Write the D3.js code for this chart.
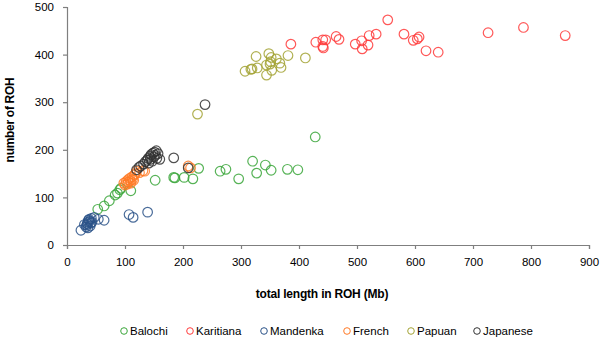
<!DOCTYPE html>
<html>
<head>
<meta charset="utf-8">
<script src="https://cdn.jsdelivr.net/npm/d3@7"></script>
<style>
  body { margin: 0; background: #fff; }
  text { font-family: "Liberation Sans", Arial, sans-serif; }
</style>
</head>
<body>
<svg id="chart" width="600" height="341"></svg>
<script>
// Total length in ROH (Mb) vs number of ROH, per individual
const balochi = [
  [53, 75], [64, 82], [73, 93], [83, 105], [87, 109], [91, 116], [93, 119],
  [110, 114], [152, 136], [184, 142], [186, 141], [202, 142], [217, 139],
  [227, 161], [264, 155], [274, 159], [296, 139], [320, 176], [327, 151],
  [342, 168], [352, 157], [380, 159], [398, 158], [428, 227]
];
const karitiana = [
  [386, 422], [429, 426], [441, 431], [446, 431], [441, 417], [442, 414],
  [464, 438], [469, 432], [497, 422], [508, 429], [509, 412], [519, 420],
  [521, 440], [533, 443], [553, 473], [581, 443], [597, 430], [604, 433],
  [607, 437], [619, 408], [640, 405], [726, 446], [787, 457], [859, 440]
];
const mandenka = [
  [24, 31], [33, 38], [34, 42], [35, 45], [36, 48], [37, 52], [38, 54],
  [39, 50], [40, 40], [41, 46], [42, 56], [43, 48], [36, 36], [30, 43],
  [47, 58], [54, 54], [64, 52], [107, 64], [114, 58], [139, 69]
];
const french = [
  [98, 130], [100, 126], [102, 133], [104, 128], [105, 137], [106, 132],
  [108, 140], [109, 135], [110, 130], [112, 143], [113, 138], [115, 136],
  [116, 147], [118, 150], [120, 155], [125, 152], [131, 156], [134, 155],
  [209, 166], [213, 162]
];
const papuan = [
  [225, 275], [307, 365], [317, 369], [319, 370], [326, 396], [328, 372],
  [344, 378], [344, 357], [348, 402], [350, 380], [351, 385], [352, 394],
  [353, 367], [361, 391], [367, 382], [369, 373], [381, 398], [411, 393]
];
const japanese = [
  [120, 158], [124, 163], [127, 166], [132, 170], [135, 175], [138, 178],
  [140, 182], [141, 172], [143, 186], [144, 180], [145, 190], [147, 176],
  [148, 193], [150, 185], [151, 195], [152, 188], [154, 198], [155, 182],
  [157, 192], [160, 180], [184, 183], [209, 162], [238, 295]
];

const seriesNames = ["Balochi", "Karitiana", "Mandenka", "French", "Papuan", "Japanese"];
const seriesData = [balochi, karitiana, mandenka, french, papuan, japanese];
const seriesColors = ["#3aa63a", "#ff3b3b", "#2a5288", "#ff7a26", "#a3a335", "#333333"];

const xTicks = [0, 100, 200, 300, 400, 500, 600, 700, 800, 900];
const yTicks = [0, 100, 200, 300, 400, 500];

const svg = d3.select("#chart");
const x = d3.scaleLinear().domain([0, 900]).range([67, 589]);
const y = d3.scaleLinear().domain([0, 500]).range([245, 7]);

const axisColor = "#7f7f7f";

// x axis
const gx = svg.append("g").attr("transform", `translate(0,${y(0)})`)
  .call(d3.axisBottom(x).tickValues(xTicks).tickSize(4).tickPadding(9).tickFormat(d3.format("d")));
// y axis
const gy = svg.append("g").attr("transform", `translate(${x(0)},0)`)
  .call(d3.axisLeft(y).tickValues(yTicks).tickSize(4).tickPadding(9).tickFormat(d3.format("d")));

[gx, gy].forEach(g => {
  g.select(".domain").attr("stroke", axisColor).attr("stroke-width", 1.2);
  g.selectAll(".tick line").attr("stroke", axisColor).attr("stroke-width", 1.2);
  g.selectAll(".tick text").attr("fill", "#000").style("font-size", "11.5px")
    .style("font-family", "'Liberation Sans', Arial, sans-serif");
});

// points
seriesData.forEach((data, i) => {
  svg.append("g").selectAll("circle").data(data).join("circle")
    .attr("cx", d => x(d[0]))
    .attr("cy", d => y(d[1]))
    .attr("r", 4.8)
    .attr("fill", "none")
    .attr("stroke", seriesColors[i])
    .attr("stroke-opacity", 0.85)
    .attr("stroke-width", 1.2);
});

// axis titles
svg.append("text")
  .attr("x", 322).attr("y", 298)
  .attr("text-anchor", "middle")
  .style("font-size", "12px").style("font-weight", "bold")
  .style("letter-spacing", "-0.2px")
  .text("total length in ROH (Mb)");

svg.append("text")
  .attr("transform", "translate(14,120) rotate(-90)")
  .attr("text-anchor", "middle")
  .style("font-size", "12px").style("font-weight", "bold")
  .style("letter-spacing", "-0.3px")
  .text("number of ROH");

// legend
const legendX = [124, 190, 264, 347, 411, 477];
const legend = svg.append("g");
seriesNames.forEach((name, i) => {
  const g = legend.append("g").attr("transform", `translate(${legendX[i]},331)`);
  g.append("circle").attr("r", 3.3).attr("fill", "none")
    .attr("stroke", seriesColors[i]).attr("stroke-width", 1);
  g.append("text").attr("x", 6).attr("y", 4)
    .style("font-size", "11.5px").text(name);
});
</script>
</body>
</html>
